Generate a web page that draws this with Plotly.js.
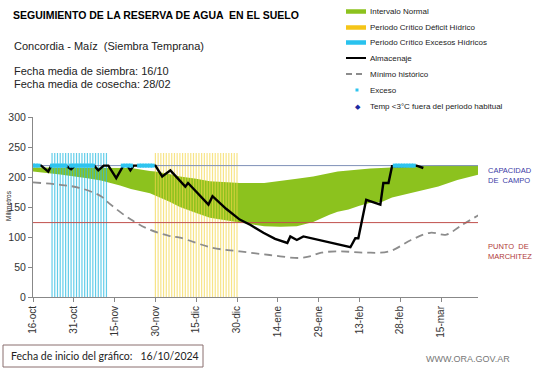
<!DOCTYPE html>
<html><head><meta charset="utf-8">
<script src="https://cdn.plot.ly/plotly-3.0.1.min.js"></script>
<style>html,body{margin:0;padding:0;background:#fff}#chart{width:541px;height:368px}</style>
</head><body><div id="chart"></div><script>
// ---- data (x = days since 16-oct-2024) ----
const tickDays   = [0,15,30,45,60,75,90,105,120,135,150];
const tickLabels = ['16-oct','31-oct','15-nov','30-nov','15-dic','30-dic','14-ene','29-ene','13-feb','28-feb','15-mar'];
const yTicks = [0,50,100,150,200,250,300];

const normalDays  = [0,10,20,25,32,36,43,45,50,54,60,65,73,76,85,91,97,103,109,112,116,120,124,128,132,135,141,149,156,164];
const normalUpper = [216,216,216,216,215,215,210,209,205,201,197,193,191,190,190,193,197,201,206,209,211,213,214,215,216,217,218,219,219,219];
const normalLower = [209,204,198,194,186,180,173,169,159,150,140,132,126,124,118,117,118,125,137,142,146,152,157,158,166,170,176,184,195,204];

const minDays = [0,10,17,25,28,36,43,50,54,66,76,87,98,102,106,113,122,131,139,146,152,157,164];
const minHist = [191,187,182,168,156,129,112,102,99,82,76,70,65,68,74,76,74,76,95,107,104,118,137];

const almDays = [0,3,5.6,6.7,12,14,15.5,22.5,24,26,27.7,30.6,33.2,34.7,35.8,37,44,45,47.5,50.5,56,57,64.5,66,71,76,80,84.7,89,93.5,94.6,97,99.4,104.5,109,116.7,118.5,119.6,122.5,127.7,128.8,130.7,132,141,143.5];
const almacenaje = [219,219,209,219,219,213,219,219,211,219,219,198,219,219,211,219,219,219,201,211,184,190,154,168,147,129,120,107,97,90,101,95,101,96,91,83,98,98,162,154,190,190,218,219,215];

const excesoDays = [0,1,2,7,8,9,10,11,12,14,15,16,17,18,19,20,21,22,33,34,35,36,39,40,41,42,43,44,133,134,135,136,137,138,139,140];

const excesoPeriodDays  = [7,8,9,10,11,12,13,14,15,16,17,18,19,20,21,22,23,24,25,26,27];
const deficitPeriodDays = [45,46,47,48,49,50,51,52,53,54,55,56,57,58,59,60,61,62,63,64,65,66,67,68,69,70,71,72,73,74,75];
const periodTop = 240;

const capacidad = 219;
const marchitez = 124;
const xEnd = 163.6;

// ---- helpers ----
const L=33,R=478,T=117,B=297;
const px = p => (p-L)/(R-L);
const py = p => (B-p)/(B-T);
function segs(days, top){const x=[],y=[];days.forEach(d=>{x.push(d,d,null);y.push(0,top,null);});return {x,y};}

const ex = segs(excesoPeriodDays, periodTop);
const df = segs(deficitPeriodDays, periodTop);

const traces = [
  {x: normalDays.concat(normalDays.slice().reverse()), y: normalUpper.concat(normalLower.slice().reverse()),
   type:'scatter', mode:'lines', fill:'toself', fillcolor:'#8cc21e', line:{width:0, color:'#8cc21e'}, hoverinfo:'skip'},
  {x: df.x, y: df.y, type:'scatter', mode:'lines', line:{color:'rgba(242,214,70,0.65)', width:1.2}, hoverinfo:'skip'},
  {x: ex.x, y: ex.y, type:'scatter', mode:'lines', line:{color:'rgba(45,188,226,0.75)', width:1.2}, hoverinfo:'skip'},
  {x: minDays, y: minHist, type:'scatter', mode:'lines', line:{color:'#8c8c8c', width:1.8, dash:'8px,5px', shape:'spline'}},
  {x: [0,xEnd], y:[capacidad,capacidad], type:'scatter', mode:'lines', line:{color:'#7e90b8', width:1}},
  {x: [0,xEnd], y:[marchitez,marchitez], type:'scatter', mode:'lines', line:{color:'#c0504d', width:1}},
  {x: almDays, y: almacenaje, type:'scatter', mode:'lines', line:{color:'#000', width:2.4}},
  {x: excesoDays, y: excesoDays.map(()=>capacidad), type:'scatter', mode:'markers', marker:{symbol:'square', size:4, color:'#2fc4ef'}}
];

const F = 'Liberation Sans, Arial, sans-serif';
const ann = [];
function txt(t, x, y, size, color, extra){ann.push(Object.assign({text:t, xref:'paper', yref:'paper', x:px(x), y:py(y), xanchor:'left', yanchor:'middle', showarrow:false, font:{family:F, size:size, color:color}}, extra||{}));}

txt('<b>SEGUIMIENTO DE LA RESERVA DE AGUA  EN EL SUELO</b>', 11, 15, 10.5, '#000');
txt('Concordia - Maíz  (Siembra Temprana)', 12, 46, 11, '#222');
txt('Fecha media de siembra: 16/10', 12, 71, 11, '#222');
txt('Fecha media de cosecha: 28/02', 12, 84, 11, '#222');

const legendItems = [
  ['Intervalo Normal', 11.5], ['Periodo Crítico Déficit Hídrico', 27.5], ['Periodo Crítico Excesos Hídricos', 42.5],
  ['Almacenaje', 58], ['Mínimo histórico', 74], ['Exceso', 90], ['Temp <3°C fuera del periodo habitual', 106]
];
legendItems.forEach(it => txt(it[0], 368, it[1], 8, '#222'));

txt('CAPACIDAD<br>DE  CAMPO', 486, 175, 7.5, '#3b3ba6', {align:'left'});
txt('PUNTO  DE<br>MARCHITEZ', 486, 251, 7.5, '#b03a3a', {align:'left'});
txt('Milímetros', 8, 206, 6.5, '#222', {textangle:-90, xanchor:'center'});
txt('Fecha de inicio del gráfico:   16/10/2024', 9, 356, 10.5, '#222', {font:{family:'Lato, Open Sans, sans-serif', size:10.5, color:'#222'}});
txt('WWW.ORA.GOV.AR', 424, 359, 9, '#777');
txt('◆', 353, 106, 7, '#1c2aa0');

const shapes = [];
function hline(x0,x1,y,color,w,dash){shapes.push({type:'line', xref:'paper', yref:'paper', x0:px(x0), x1:px(x1), y0:py(y), y1:py(y), line:{color:color, width:w, dash:dash||'solid'}});}
hline(346,366,11.5,'#8cc21e',4.5);
hline(346,366,27.5,'#f5c518',4.5);
hline(346,366,42.5,'#29c2ee',4.5);
hline(346,366,58,'#000',2);
hline(346,366,74,'#8c8c8c',1.8,'6px,4px');
shapes.push({type:'rect', xref:'paper', yref:'paper', x0:px(355.5), x1:px(358.5), y0:py(88.5), y1:py(91.5), fillcolor:'#2fc4ef', line:{width:0}});
shapes.push({type:'rect', xref:'paper', yref:'paper', x0:px(3), x1:px(203), y0:py(345), y1:py(367), line:{color:'#8a6f6f', width:1}, fillcolor:'rgba(0,0,0,0)'});

const layout = {
  width:541, height:368,
  margin:{l:L, r:541-R, t:T, b:368-B, pad:0},
  paper_bgcolor:'#fff', plot_bgcolor:'#fff',
  showlegend:false,
  font:{family:F, size:10, color:'#333'},
  xaxis:{range:[0,xEnd], tickmode:'array', tickvals:tickDays, ticktext:tickLabels, tickangle:-90,
         ticks:'outside', ticklen:4, tickcolor:'#888', showline:true, linecolor:'#888', linewidth:1,
         showgrid:false, zeroline:false, tickfont:{family:F, size:10, color:'#333'}, fixedrange:true},
  yaxis:{range:[0,300], tickmode:'array', tickvals:yTicks, ticks:'outside', ticklen:4, tickcolor:'#888',
         showline:true, linecolor:'#888', linewidth:1, showgrid:false, zeroline:false,
         tickfont:{family:F, size:10.5, color:'#333'}, fixedrange:true},
  annotations: ann, shapes: shapes
};
Plotly.newPlot('chart', traces, layout, {staticPlot:true, displayModeBar:false});
</script></body></html>
